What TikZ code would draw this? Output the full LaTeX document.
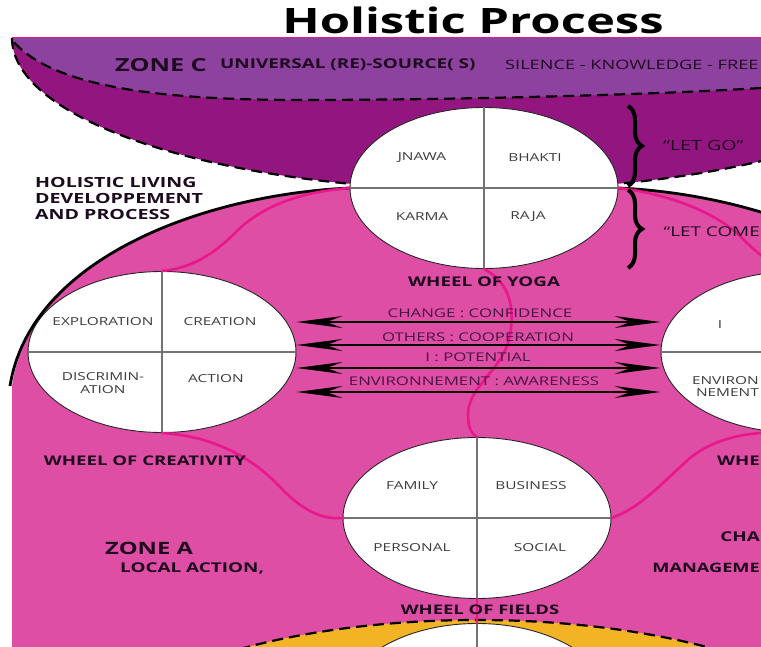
\documentclass[tikz,border=0pt]{standalone}
\usepackage{fontspec}
\setmainfont{Open Sans}[FakeStretch=1.4]
\usetikzlibrary{shapes.geometric,arrows.meta,decorations.pathreplacing}
\definecolor{zonec}{RGB}{142,66,160}
\definecolor{zoneb}{RGB}{147,22,128}
\definecolor{zonea}{RGB}{221,78,164}
\definecolor{zoney}{RGB}{242,180,36}
\definecolor{wavepink}{RGB}{234,22,140}
\definecolor{ink}{RGB}{30,10,30}
\definecolor{plum}{RGB}{70,20,66}
\definecolor{quad}{RGB}{60,60,60}

\begin{document}
\begin{tikzpicture}[x=1pt,y=-1pt,
  wheel/.style={ellipse,draw=black!85,line width=0.9pt,fill=white,minimum width=268pt,minimum height=161pt,inner sep=0pt},
  cross/.style={draw=black!55,line width=1.4pt},
  dashline/.style={draw=black,line width=2.2pt,dash pattern=on 11pt off 6pt},
  rim/.style={draw=black,line width=2.8pt},
  pinkline/.style={draw=wavepink,line width=2.6pt,line cap=round},
  biarrow/.style={draw=black,line width=1.9pt,arrows={Stealth[length=46pt,width=12pt,inset=16pt]-Stealth[length=46pt,width=12pt,inset=16pt]}},
  bigbrace/.style={draw=black,line width=4pt,decorate,decoration={brace,amplitude=14pt}}]
\useasboundingbox (0,0) rectangle (761,647);

          \fill[zoneb] (12,38) arc[start angle=180,end angle=0,x radius=472,y radius=152] -- cycle;
          \fill[zonec] (12,38) -- (761,38) -- (761,88) .. controls (650,95) and (450,100) .. (300,100) .. controls (150,100) and (50,85) .. (12,40) -- cycle;
          \draw[dashline] (761,88) .. controls (650,95) and (450,100) .. (300,100) .. controls (150,100) and (50,85) .. (12,40);
          \draw[dashline] (12,38) arc[start angle=180,end angle=0,x radius=472,y radius=152];
          \draw[wavepink,line width=1pt] (12,38) -- (761,38);
          \fill[zonea] (12,700) -- (12,386) .. controls (30,260) and (200,195) .. (348,187) -- (620,187) .. controls (768,195) and (938,260) .. (958,386) -- (958,700) -- cycle;
          \fill[zoney] (477,769) ellipse[x radius=400,y radius=149];
          \draw[dashline] (477,769) ellipse[x radius=400,y radius=149];

          \draw (484,188) node[wheel] (yoga) {};
          \draw (162,352) node[wheel] (cre) {};
          \draw (795,352) node[wheel] (env) {};
          \draw (477,518) node[wheel] (fields) {};
          \draw (477,704) node[wheel] (base) {};
          \draw[cross] (yoga.north) -- (yoga.south);
          \draw[cross] (yoga.west) -- (yoga.east);
          \draw[cross] (cre.north) -- (cre.south);
          \draw[cross] (cre.west) -- (cre.east);
          \draw[cross] (env.west) -- (env.east);
          \draw[cross] (fields.west) -- (fields.east);
          \draw[cross] (fields.north) -- (base.south);

          \draw[rim] (10,386) .. controls (30,260) and (200,195) .. (yoga.west);
          \draw[rim] (yoga.east) .. controls (768,195) and (938,260) .. (958,386);

          \draw[pinkline] (yoga.west) .. controls (300,192) and (262,206) .. (236,232) .. controls (214,254) and (192,268) .. (cre.north);
          \draw[pinkline] (yoga.east) .. controls (670,194) and (720,214) .. (744,240) .. controls (760,256) and (776,268) .. (env.north);
          \draw[pinkline] (yoga.south) .. controls (505,280) and (516,300) .. (510,335) .. controls (504,370) and (468,385) .. (468,415) .. controls (468,428) and (472,434) .. (fields.north);
          \draw[pinkline] (cre.south) .. controls (210,436) and (250,455) .. (280,487) .. controls (300,508) and (320,520) .. (fields.west);
          \draw[pinkline] (fields.east) .. controls (640,508) and (660,485) .. (690,458) .. controls (715,438) and (750,430) .. (env.south);
          \draw[pinkline] (fields.south) -- (base.north);

          \draw[biarrow] (cre.east |- 0,322) -- (env.west |- 0,322);
          \draw[biarrow] (cre.east |- 0,345) -- (env.west |- 0,345);
          \draw[biarrow] (cre.east |- 0,368) -- (env.west |- 0,368);
          \draw[biarrow] (cre.east |- 0,392) -- (env.west |- 0,392);

          \draw[bigbrace] (628,106) -- (628,186);
          \draw[bigbrace] (628,190) -- (628,268);

          \draw (473,20) node (title) {\mbox{\fontsize{35}{35}\selectfont\bfseries Holistic Process}};
          \draw (115,65) node[anchor=west,inner sep=0pt] (zc) {\mbox{\fontsize{18}{18}\selectfont\bfseries\color{ink}ZONE C}};
          \draw (220,65) node[anchor=west,inner sep=0pt] (src) {\mbox{\fontsize{13.5}{13.5}\selectfont\bfseries\color{ink}UNIVERSAL (RE)-SOURCE( S)}};
          \draw (505,65) node[anchor=west,inner sep=0pt] (silence) {\mbox{\fontsize{13}{13}\selectfont\color{ink}SILENCE - KNOWLEDGE - FREE}};
          \draw (35,198) node[anchor=west,align=left,inner sep=0pt,font=\fontsize{14}{16}\selectfont\bfseries,text=ink] (holistic) {HOLISTIC LIVING\\DEVELOPPEMENT\\AND PROCESS};
          \draw (663,145) node[anchor=west,inner sep=0pt] (letgo) {\mbox{\fontsize{14}{14}\selectfont\color{ink}“LET GO”}};
          \draw (760,232) node[anchor=east,inner sep=0pt] (letcome) {\mbox{\fontsize{13.5}{13.5}\selectfont\color{ink}“LET COME}};

          \draw (422,158) node (jnawa) {\mbox{\fontsize{11}{11}\selectfont\color{quad}JNAWA}};
          \draw (535,158) node (bhakti) {\mbox{\fontsize{11}{11}\selectfont\color{quad}BHAKTI}};
          \draw (422,217) node (karma) {\mbox{\fontsize{11}{11}\selectfont\color{quad}KARMA}};
          \draw (528,217) node (raja) {\mbox{\fontsize{11}{11}\selectfont\color{quad}RAJA}};
          \draw (484,282) node (yoganame) {\mbox{\fontsize{13.4}{13.4}\selectfont\bfseries\color{ink}WHEEL OF YOGA}};

          \draw (103,322) node (explo) {\mbox{\fontsize{11}{11}\selectfont\color{quad}EXPLORATION}};
          \draw (220,322) node (creation) {\mbox{\fontsize{11}{11}\selectfont\color{quad}CREATION}};
          \draw (103,383) node[align=center,font=\fontsize{11}{13}\selectfont,text=quad] (discr) {DISCRIMIN-\\ATION};
          \draw (216,379) node (action) {\mbox{\fontsize{11}{11}\selectfont\color{quad}ACTION}};
          \draw (145,461) node (crename) {\mbox{\fontsize{13.3}{13.3}\selectfont\bfseries\color{ink}WHEEL OF CREATIVITY}};

          \draw (720,325) node (ienv) {\mbox{\fontsize{11}{11}\selectfont\color{quad}I}};
          \draw (759,381) node[anchor=east,inner sep=0pt,font=\fontsize{11}{11}\selectfont,text=quad] (environ) {ENVIRON};
          \draw (759,393) node[anchor=east,inner sep=0pt,font=\fontsize{11}{11}\selectfont,text=quad] (nement) {NEMENT};
          \draw (760,461) node[anchor=east,inner sep=0pt] (envname) {\mbox{\fontsize{13.3}{13.3}\selectfont\bfseries\color{ink}WHE}};

          \draw (480,313) node (chg) {\mbox{\fontsize{12}{12}\selectfont\color{plum}CHANGE : CONFIDENCE}};
          \draw (478,337) node (oth) {\mbox{\fontsize{12}{12}\selectfont\color{plum}OTHERS : COOPERATION}};
          \draw (478,357) node (pot) {\mbox{\fontsize{12}{12}\selectfont\color{plum}I : POTENTIAL}};
          \draw (474,381) node (aware) {\mbox{\fontsize{12}{12}\selectfont\color{plum}ENVIRONNEMENT : AWARENESS}};

          \draw (412,486) node (family) {\mbox{\fontsize{11}{11}\selectfont\color{quad}FAMILY}};
          \draw (531,486) node (business) {\mbox{\fontsize{11}{11}\selectfont\color{quad}BUSINESS}};
          \draw (412,548) node (personal) {\mbox{\fontsize{11}{11}\selectfont\color{quad}PERSONAL}};
          \draw (540,548) node (social) {\mbox{\fontsize{11}{11}\selectfont\color{quad}SOCIAL}};
          \draw (480,610) node (fieldsname) {\mbox{\fontsize{13.2}{13.2}\selectfont\bfseries\color{ink}WHEEL OF FIELDS}};

          \draw (105,548) node[anchor=west,inner sep=0pt] (zonea) {\mbox{\fontsize{17}{17}\selectfont\bfseries\color{ink}ZONE A}};
          \draw (120,568) node[anchor=west,inner sep=0pt] (local) {\mbox{\fontsize{13.5}{13.5}\selectfont\bfseries\color{ink}LOCAL ACTION,}};
          \draw (760,537) node[anchor=east,inner sep=0pt] (cha) {\mbox{\fontsize{13.5}{13.5}\selectfont\bfseries\color{ink}CHA}};
          \draw (760,568) node[anchor=east,inner sep=0pt] (manage) {\mbox{\fontsize{13}{13}\selectfont\bfseries\color{ink}MANAGEME}};
	\end{tikzpicture}
\end{document}
